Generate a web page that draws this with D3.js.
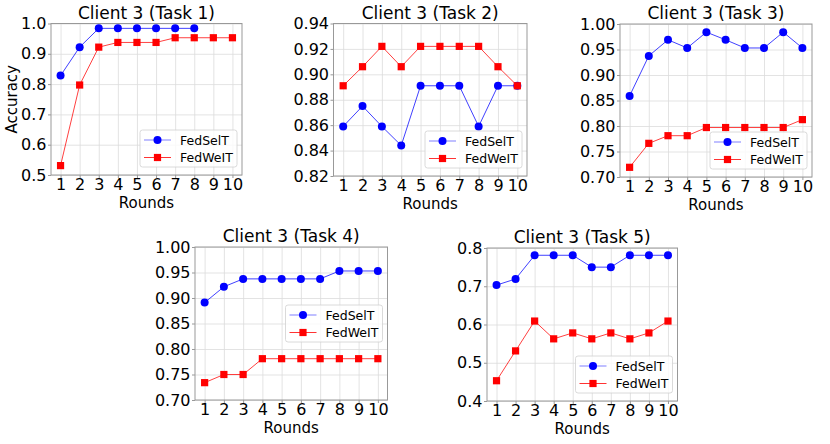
<!DOCTYPE html>
<html>
<head>
<meta charset="utf-8">
<script src="https://cdn.jsdelivr.net/npm/d3@7"></script>
<style>
  body { margin: 0; background: #fff; }
  text { font-family: "DejaVu Sans", sans-serif; fill: #000; }
</style>
</head>
<body>
<svg id="chart" width="830" height="444"></svg>
<script>
// data
const rounds = [1, 2, 3, 4, 5, 6, 7, 8, 9, 10]
const seriesNames = ["FedSelT", "FedWeIT"]
const titles = ["Client 3 (Task 1)", "Client 3 (Task 2)", "Client 3 (Task 3)", "Client 3 (Task 4)", "Client 3 (Task 5)"]

const task1FedSelT = [0.828, 0.922, 0.984, 0.984, 0.984, 0.984, 0.984, 0.984]
const task1FedWeIT = [0.531, 0.797, 0.922, 0.9375, 0.9375, 0.9375, 0.953, 0.953, 0.953, 0.953]
const task2FedSelT = [0.859, 0.875, 0.859, 0.844, 0.891, 0.891, 0.891, 0.859, 0.891, 0.891]
const task2FedWeIT = [0.891, 0.906, 0.922, 0.906, 0.922, 0.922, 0.922, 0.922, 0.906, 0.891]
const task3FedSelT = [0.859, 0.9375, 0.969, 0.953, 0.984, 0.969, 0.953, 0.953, 0.984, 0.953]
const task3FedWeIT = [0.719, 0.766, 0.781, 0.781, 0.797, 0.797, 0.797, 0.797, 0.797, 0.8125]
const task4FedSelT = [0.891, 0.922, 0.9375, 0.9375, 0.9375, 0.9375, 0.9375, 0.953, 0.953, 0.953]
const task4FedWeIT = [0.734, 0.75, 0.75, 0.781, 0.781, 0.781, 0.781, 0.781, 0.781, 0.781]
const task5FedSelT = [0.703, 0.719, 0.781, 0.781, 0.781, 0.75, 0.75, 0.781, 0.781, 0.781]
const task5FedWeIT = [0.453, 0.531, 0.609, 0.5625, 0.578, 0.5625, 0.578, 0.5625, 0.578, 0.609]

const task1Ticks = [0.5, 0.6, 0.7, 0.8, 0.9, 1.0]
const task2Ticks = [0.82, 0.84, 0.86, 0.88, 0.90, 0.92, 0.94]
const task3Ticks = [0.70, 0.75, 0.80, 0.85, 0.90, 0.95, 1.00]
const task4Ticks = [0.70, 0.75, 0.80, 0.85, 0.90, 0.95, 1.00]
const task5Ticks = [0.4, 0.5, 0.6, 0.7, 0.8]

// panel layout (pixel boxes of each plotting area)
const panels = [
  { title: titles[0], sel: task1FedSelT, wei: task1FedWeIT, ticks: task1Ticks, fmt: ".1f", box: [51, 23.5, 242, 175], legend: "lower", ylabel: true },
  { title: titles[1], sel: task2FedSelT, wei: task2FedWeIT, ticks: task2Ticks, fmt: ".2f", box: [333.5, 23.5, 527, 176], legend: "lower" },
  { title: titles[2], sel: task3FedSelT, wei: task3FedWeIT, ticks: task3Ticks, fmt: ".2f", box: [620, 24, 812, 177], legend: "lower" },
  { title: titles[3], sel: task4FedSelT, wei: task4FedWeIT, ticks: task4Ticks, fmt: ".2f", box: [195, 247, 387.5, 400], legend: "center" },
  { title: titles[4], sel: task5FedSelT, wei: task5FedWeIT, ticks: task5Ticks, fmt: ".1f", box: [487, 248, 677.5, 401], legend: "lower" },
]

const svg = d3.select("#chart")
const blue = "#0000ff"
const red = "#ff0000"

function drawPanel(p) {
  const [x0, y0, x1, y1] = p.box
  const g = svg.append("g")

  const xScale = d3.scaleLinear().domain([0.5, 10.5]).range([x0, x1])
  const yScale = d3.scaleLinear().domain(d3.extent(p.ticks)).range([y1, y0])

  // grid
  g.append("g")
    .attr("transform", `translate(0,${y1})`)
    .call(d3.axisBottom(xScale).tickValues(rounds).tickSize(-(y1 - y0)).tickFormat(""))
    .call(a => a.select(".domain").remove())
    .call(a => a.selectAll("line").attr("stroke", "#dcdcdc").attr("stroke-width", 0.8))
  g.append("g")
    .attr("transform", `translate(${x0},0)`)
    .call(d3.axisLeft(yScale).tickValues(p.ticks).tickSize(-(x1 - x0)).tickFormat(""))
    .call(a => a.select(".domain").remove())
    .call(a => a.selectAll("line").attr("stroke", "#dcdcdc").attr("stroke-width", 0.8))

  // axes
  const xAxis = g.append("g")
    .attr("transform", `translate(0,${y1})`)
    .call(d3.axisBottom(xScale).tickValues(rounds).tickSize(3).tickPadding(1))
  const yAxis = g.append("g")
    .attr("transform", `translate(${x0},0)`)
    .call(d3.axisLeft(yScale).tickValues(p.ticks).tickSize(3).tickPadding(1.5).tickFormat(d3.format(p.fmt)))
  for (const a of [xAxis, yAxis]) {
    a.select(".domain").remove()
    a.selectAll("line").attr("stroke", "#999")
    a.selectAll("text").attr("font-size", 16).attr("font-family", "DejaVu Sans").attr("fill", "#000")
  }

  g.append("rect")
    .attr("x", x0).attr("y", y0)
    .attr("width", x1 - x0).attr("height", y1 - y0)
    .attr("fill", "none").attr("stroke", "#999").attr("stroke-width", 1)

  // lines and markers
  const line = d3.line()
    .x((d, i) => xScale(rounds[i]))
    .y(d => yScale(d))

  g.append("path").attr("d", line(p.sel))
    .attr("fill", "none").attr("stroke", blue).attr("stroke-width", 1).attr("stroke-opacity", 0.75)
  g.append("path").attr("d", line(p.wei))
    .attr("fill", "none").attr("stroke", red).attr("stroke-width", 1).attr("stroke-opacity", 0.75)

  g.selectAll(".sel").data(p.sel).join("circle")
    .attr("cx", (d, i) => xScale(rounds[i]))
    .attr("cy", d => yScale(d))
    .attr("r", 4)
    .attr("fill", blue)
  g.selectAll(".wei").data(p.wei).join("rect")
    .attr("x", (d, i) => xScale(rounds[i]) - 3.6)
    .attr("y", d => yScale(d) - 3.6)
    .attr("width", 7.2).attr("height", 7.2)
    .attr("fill", red)

  // title and labels
  g.append("text")
    .attr("x", (x0 + x1) / 2).attr("y", y0 - 5)
    .attr("text-anchor", "middle").attr("font-size", 17)
    .text(p.title)
  g.append("text")
    .attr("x", (x0 + x1) / 2).attr("y", y1 + 32.5)
    .attr("text-anchor", "middle").attr("font-size", 15)
    .text("Rounds")
  if (p.ylabel) {
    g.append("text")
      .attr("transform", `translate(${x0 - 34},${(y0 + y1) / 2}) rotate(-90)`)
      .attr("text-anchor", "middle").attr("font-size", 15)
      .text("Accuracy")
  }

  // legend
  const lw = 97, lh = 37
  const lx = x1 - 5 - lw
  const ly = p.legend === "center" ? (y0 + y1) / 2 - lh / 2 : y1 - 8 - lh
  const leg = g.append("g").attr("transform", `translate(${lx},${ly})`)
  leg.append("rect")
    .attr("width", lw).attr("height", lh).attr("rx", 2.5)
    .attr("fill", "#fff").attr("fill-opacity", 0.8)
    .attr("stroke", "#d0d0d0").attr("stroke-width", 0.8)
  seriesNames.forEach((name, i) => {
    const ry = 10 + i * 17.5
    const col = i === 0 ? blue : red
    leg.append("line")
      .attr("x1", 4).attr("x2", 31).attr("y1", ry).attr("y2", ry)
      .attr("stroke", col).attr("stroke-width", 1).attr("stroke-opacity", i === 0 ? 0.5 : 0.8)
    if (i === 0) {
      leg.append("circle").attr("cx", 17.5).attr("cy", ry).attr("r", 4).attr("fill", col)
    } else {
      leg.append("rect").attr("x", 17.5 - 3.6).attr("y", ry - 3.6).attr("width", 7.2).attr("height", 7.2).attr("fill", col)
    }
    leg.append("text")
      .attr("x", 40).attr("y", ry).attr("dy", "0.36em")
      .attr("font-size", 12.5)
      .text(name)
  })
}

panels.forEach(drawPanel)
</script>
</body>
</html>
